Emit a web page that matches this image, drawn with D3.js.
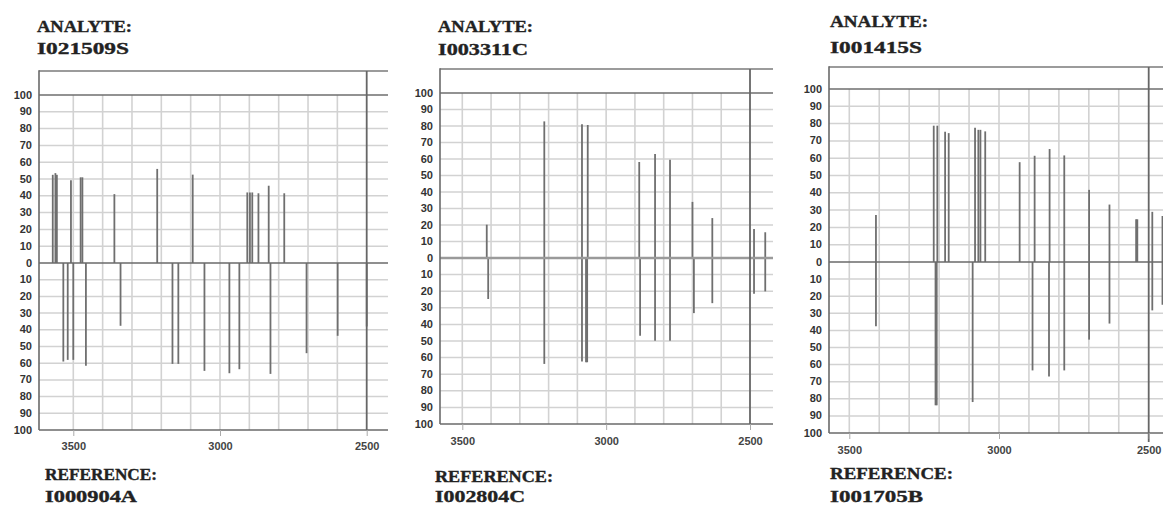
<!DOCTYPE html>
<html><head><meta charset="utf-8">
<script src="https://cdn.jsdelivr.net/npm/d3@7"></script>
<style>body{margin:0;background:#fff}svg{display:block}</style>
</head><body>
<svg id="c" width="1163" height="507"></svg>
<script>
// ---------- data ----------
const analyteIds = ["I021509S", "I003311C", "I001415S"];
const referenceIds = ["I000904A", "I002804C", "I001705B"];
const analyteLabel = "ANALYTE:";
const referenceLabel = "REFERENCE:";
const xTickValues = [3500, 3000, 2500];
const yTickValues = [0, 10, 20, 30, 40, 50, 60, 70, 80, 90, 100];
const gridWavenumbers = [3500, 3400, 3300, 3200, 3100, 3000, 2900, 2800, 2700, 2600];
const markerWavenumber = 2500;

// [wavenumber, relative intensity]
const analyte1 = [[3570,52.5],[3561,53.5],[3556,52.5],[3508,49.2],[3475,51],[3469,51],[3360,41],[3214,56],[3093,52.6],[2907,42],[2898,42],[2890,42],[2869,41.5],[2834,46],[2781,41.5]];
const reference1 = [[3534,59],[3519,58],[3500,58],[3457,61.6],[3339,37.6],[3162,60.4],[3142,60.4],[3053,64.6],[2968,66],[2934,63.6],[2828,66.4],[2705,54],[2599,43.6],[2500,38]];

const analyte2 = [[3415,20.2],[3215,82.8],[3084,81],[3064,80.6],[2885,58.2],[2830,63],[2778,59.6],[2700,34],[2631,24.2],[2486,17.6],[2447,15.6]];
const reference2 = [[3410,24.7],[3215,63.8],[3084,62.4],[3070,62.8],[3066,62.8],[2882,46.9],[2830,49.9],[2778,49.9],[2695,33.2],[2631,27.2],[2486,21.5],[2447,20.1]];

const analyte3 = [[3411,27.2],[3218,78.8],[3206,78.8],[3180,75.3],[3168,74.5],[3080,77.6],[3069,76.4],[3062,76.4],[3046,75.5],[2931,57.7],[2881,61.4],[2831,65.3],[2782,61.6],[2699,41.7],[2631,33.2],[2542,24.7],[2538,24.7],[2488,29],[2454,26.6]];
const reference3 = [[3411,37.6],[3212,83.8],[3208,83.8],[3088,81.9],[2888,63.4],[2833,66.9],[2782,63.4],[2699,45.4],[2631,36],[2488,28.3],[2454,25]];

const analyteSets = [analyte1, analyte2, analyte3];
const referenceSets = [reference1, reference2, reference3];

// ---------- layout (pixels) ----------
const layout = [
  {left:39, right:388, top:71, y100:95, zero:263, bottom:430, x3500:73.3, x2500:366.7,
   tA:[37,32,95], tAid:[37,54,92], tR:[45,480,112], tRid:[45,502,92], xLab:450, zeroW:1.6, zeroC:"#6a6a6a"},
  {left:440, right:773, top:69, y100:93, zero:258, bottom:424, x3500:462.3, x2500:750,
   tA:[438,32,95], tAid:[438,55,90], tR:[435,482,118], tRid:[435,502,90], xLab:445, zeroW:2.6, zeroC:"#9a9a9a"},
  {left:829, right:1163, top:67, y100:89, zero:262, bottom:433, x3500:849.3, x2500:1148.7,
   tA:[830,27,98], tAid:[830,52.5,92], tR:[830,479,123], tRid:[830,502,93], xLab:454, zeroW:1.6, zeroC:"#6a6a6a"}
];

const svg = d3.select("#c");
const serif = "'Liberation Serif','Times New Roman',serif";
const sans = "'Liberation Sans',Arial,sans-serif";

layout.forEach((L, i) => {
  const g = svg.append("g");
  const x = d3.scaleLinear().domain([3500, 2500]).range([L.x3500, L.x2500]);
  const yUp = d3.scaleLinear().domain([0, 100]).range([L.zero, L.y100]);
  const yDown = d3.scaleLinear().domain([0, 100]).range([L.zero, L.bottom]);

  const clipId = "clip" + i;
  svg.append("clipPath").attr("id", clipId).append("rect")
    .attr("x", L.left).attr("y", L.top - 2).attr("width", L.right - L.left).attr("height", L.bottom - L.top + 4);
  const plot = g.append("g").attr("clip-path", `url(#${clipId})`);

  // horizontal grid
  const hTicks = yTickValues.filter(v => v > 0 && v < 100);
  plot.selectAll(null).data(hTicks).join("line")
    .attr("x1", L.left).attr("x2", L.right)
    .attr("y1", d => yUp(d)).attr("y2", d => yUp(d))
    .attr("stroke", "#d2d2d2").attr("stroke-width", 1.5);
  plot.selectAll(null).data(hTicks).join("line")
    .attr("x1", L.left).attr("x2", L.right)
    .attr("y1", d => yDown(d)).attr("y2", d => yDown(d))
    .attr("stroke", "#d2d2d2").attr("stroke-width", 1.5);
  // vertical grid
  plot.selectAll(null).data(gridWavenumbers).join("line")
    .attr("x1", d => x(d)).attr("x2", d => x(d))
    .attr("y1", yUp(100)).attr("y2", L.bottom)
    .attr("stroke", "#d2d2d2").attr("stroke-width", 1.6);

  // 100 line and top frame
  plot.append("line").attr("x1", L.left).attr("x2", L.right)
    .attr("y1", yUp(100)).attr("y2", yUp(100)).attr("stroke", "#6e6e6e").attr("stroke-width", 1.6);
  plot.append("line").attr("x1", L.left).attr("x2", L.right)
    .attr("y1", L.top).attr("y2", L.top).attr("stroke", "#7a7a7a").attr("stroke-width", 1.6);

  // bars
  plot.selectAll(null).data(analyteSets[i]).join("line")
    .attr("x1", d => x(d[0])).attr("x2", d => x(d[0]))
    .attr("y1", L.zero).attr("y2", d => yUp(d[1]))
    .attr("stroke", "#6f6f6f").attr("stroke-width", 1.8);
  plot.selectAll(null).data(referenceSets[i]).join("line")
    .attr("x1", d => x(d[0])).attr("x2", d => x(d[0]))
    .attr("y1", L.zero).attr("y2", d => yDown(d[1]))
    .attr("stroke", "#6f6f6f").attr("stroke-width", 1.8);

  // zero line
  plot.append("line").attr("x1", L.left).attr("x2", L.right)
    .attr("y1", L.zero).attr("y2", L.zero).attr("stroke", L.zeroC).attr("stroke-width", L.zeroW);

  // marker line at 2500
  g.append("line").attr("x1", x(markerWavenumber)).attr("x2", x(markerWavenumber))
    .attr("y1", L.top).attr("y2", L.bottom + (i === 2 ? 9 : 0))
    .attr("stroke", "#666").attr("stroke-width", 1.8);

  // left axis + bottom axis
  g.append("line").attr("x1", L.left).attr("x2", L.left).attr("y1", L.top - 0.8).attr("y2", L.bottom)
    .attr("stroke", "#6a6a6a").attr("stroke-width", 1.6);
  g.append("line").attr("x1", L.left).attr("x2", L.right).attr("y1", L.bottom).attr("y2", L.bottom)
    .attr("stroke", "#6a6a6a").attr("stroke-width", 1.6);

  // y tick labels
  const yl = g.append("g").attr("font-family", sans).attr("font-weight", "bold")
    .attr("font-size", 11).attr("fill", "#333").attr("text-anchor", "end");
  yl.selectAll(null).data(yTickValues).join("text")
    .attr("x", L.left - 7).attr("y", d => yUp(d) + 3.5).text(d => d);
  yl.selectAll(null).data(yTickValues.filter(v => v > 0)).join("text")
    .attr("x", L.left - 7).attr("y", d => yDown(d) + 3.5).text(d => d);

  // x ticks
  const xAxis = d3.axisBottom(x).tickValues(xTickValues).tickSize(6).tickPadding(5).tickFormat(d3.format("d"));
  const xa = g.append("g").attr("transform", `translate(0,${L.bottom})`).call(xAxis);
  xa.select(".domain").remove();
  xa.selectAll(".tick line").attr("stroke", "#aaa");
  xa.selectAll(".tick text").attr("font-family", sans).attr("font-weight", "bold")
    .attr("font-size", 11).attr("fill", "#444").attr("y", L.xLab - L.bottom).attr("dy", 0);

  // titles
  const title = (p, txt) => g.append("text").attr("x", p[0]).attr("y", p[1])
    .attr("font-family", serif).attr("font-weight", "bold").attr("font-size", 16)
    .attr("fill", "#222").attr("stroke", "#222").attr("stroke-width", 0.35)
    .attr("textLength", p[2]).attr("lengthAdjust", "spacingAndGlyphs").text(txt);
  title(L.tA, analyteLabel);
  title(L.tAid, analyteIds[i]);
  title(L.tR, referenceLabel);
  title(L.tRid, referenceIds[i]);
});
</script>
</body></html>
